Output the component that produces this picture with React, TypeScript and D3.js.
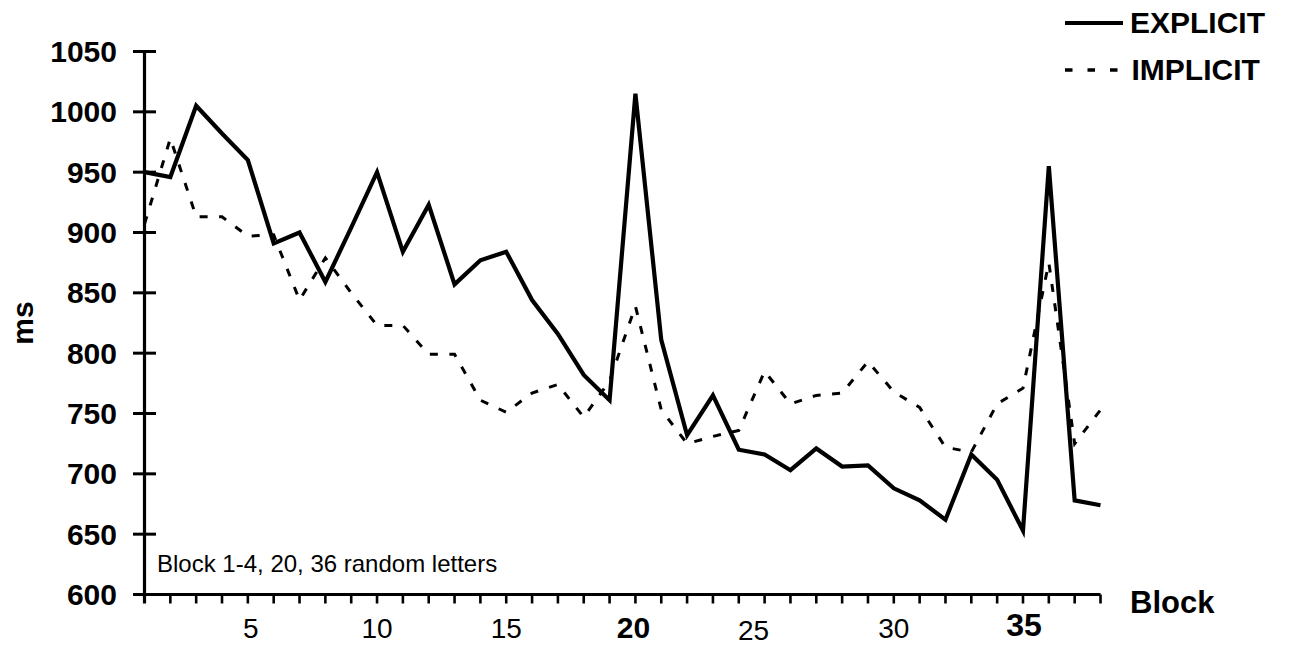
import React, { useEffect, useRef } from "react";
import * as d3 from "d3";

// block numbers 1..38
const blocks = d3.range(1, 39);

const explicit = [
  950, 946, 1005, 982, 960, 891, 900, 859, 904, 950,
  884, 923, 857, 877, 884, 844, 816, 782, 761, 1015,
  811, 732, 765, 720, 716, 703, 721, 706, 707, 688,
  678, 662, 716, 695, 653, 955, 678, 674,
];

const implicit = [
  907, 978, 913, 913, 897, 898, 844, 879, 850, 823,
  823, 799, 799, 761, 751, 767, 774, 747, 777, 839,
  753, 725, 731, 736, 785, 758, 765, 767, 793, 768,
  755, 722, 718, 758, 771, 875, 725, 753,
];

const yTicks = [600, 650, 700, 750, 800, 850, 900, 950, 1000, 1050];
const xLabels = [5, 10, 15, 20, 25, 30, 35];
const boldLabels = [20, 35];

const seriesNames = ["EXPLICIT", "IMPLICIT"];
const note = "Block 1-4, 20, 36 random letters";

const FONT = "'Liberation Sans', Arial, sans-serif";

// small hand tweaks for the x labels, as in the original figure
const labelStyle = {
  5: { dx: 3, dy: 0, size: 28 },
  10: { dx: 0, dy: 0, size: 28 },
  15: { dx: 0, dy: 0, size: 28 },
  20: { dx: -2, dy: 0, size: 30 },
  25: { dx: -11, dy: 1.5, size: 28 },
  30: { dx: 0, dy: 0, size: 28 },
  35: { dx: 1, dy: -2.5, size: 32 },
};

const Chart = ({ width, height }) => {
  const svgRef = useRef(null);

  useEffect(() => {
    const svg = d3.select(svgRef.current);
    svg.selectAll("*").remove();

    const x = d3.scalePoint().domain(blocks).range([144.5, 1100.5]);
    const y = d3.scaleLinear().domain([600, 1050]).range([594.5, 51.5]);

    const line = d3
      .line()
      .x((d, i) => x(blocks[i]))
      .y((d) => y(d));

    // y axis line + cross ticks
    svg
      .append("line")
      .attr("x1", x(1))
      .attr("x2", x(1))
      .attr("y1", y(1050))
      .attr("y2", y(600) + 9)
      .attr("stroke", "#000")
      .attr("stroke-width", 3.2);

    svg
      .append("g")
      .selectAll("line")
      .data(yTicks)
      .enter()
      .append("line")
      .attr("x1", x(1) - 11.5)
      .attr("x2", x(1) + 11.5)
      .attr("y1", (d) => y(d))
      .attr("y2", (d) => y(d))
      .attr("stroke", "#000")
      .attr("stroke-width", 3);

    svg
      .append("g")
      .selectAll("text")
      .data(yTicks)
      .enter()
      .append("text")
      .attr("x", 117)
      .attr("y", (d) => y(d) + 10.5)
      .attr("text-anchor", "end")
      .attr("font-family", FONT)
      .attr("font-weight", "bold")
      .attr("font-size", 30)
      .text((d) => d);

    // x axis line + ticks
    svg
      .append("line")
      .attr("x1", x(1))
      .attr("x2", x(38))
      .attr("y1", y(600))
      .attr("y2", y(600))
      .attr("stroke", "#000")
      .attr("stroke-width", 3.2);

    svg
      .append("g")
      .selectAll("line")
      .data(blocks.slice(1))
      .enter()
      .append("line")
      .attr("x1", (d) => x(d))
      .attr("x2", (d) => x(d))
      .attr("y1", y(600))
      .attr("y2", y(600) + 9)
      .attr("stroke", "#000")
      .attr("stroke-width", 2.6);

    svg
      .append("g")
      .selectAll("text")
      .data(xLabels)
      .enter()
      .append("text")
      .attr("x", (d) => x(d) + labelStyle[d].dx)
      .attr("y", (d) => 638 + labelStyle[d].dy)
      .attr("text-anchor", "middle")
      .attr("font-family", FONT)
      .attr("font-weight", (d) => (boldLabels.includes(d) ? "bold" : "normal"))
      .attr("font-size", (d) => labelStyle[d].size)
      .text((d) => d);

    // axis titles
    svg
      .append("text")
      .attr("x", 1130)
      .attr("y", 613)
      .attr("font-family", FONT)
      .attr("font-weight", "bold")
      .attr("font-size", 31)
      .text("Block");

    svg
      .append("text")
      .attr("transform", "translate(33,323) rotate(-90)")
      .attr("text-anchor", "middle")
      .attr("font-family", FONT)
      .attr("font-weight", "bold")
      .attr("font-size", 30)
      .text("ms");

    svg
      .append("text")
      .attr("x", 157)
      .attr("y", 572)
      .attr("font-family", FONT)
      .attr("font-size", 24)
      .text(note);

    // series
    svg
      .append("path")
      .datum(implicit)
      .attr("d", line)
      .attr("fill", "none")
      .attr("stroke", "#000")
      .attr("stroke-width", 3)
      .attr("stroke-dasharray", "8 11.5");

    svg
      .append("path")
      .datum(explicit)
      .attr("d", line)
      .attr("fill", "none")
      .attr("stroke", "#000")
      .attr("stroke-width", 4.2)
      .attr("stroke-linejoin", "miter");

    // legend
    const legend = svg.append("g");
    legend
      .append("line")
      .attr("x1", 1065)
      .attr("x2", 1123)
      .attr("y1", 23)
      .attr("y2", 23)
      .attr("stroke", "#000")
      .attr("stroke-width", 4);
    legend
      .append("line")
      .attr("x1", 1065)
      .attr("x2", 1118)
      .attr("y1", 70)
      .attr("y2", 70)
      .attr("stroke", "#000")
      .attr("stroke-width", 3.4)
      .attr("stroke-dasharray", "7.5 15");
    legend
      .selectAll("text")
      .data(seriesNames)
      .enter()
      .append("text")
      .attr("x", (d, i) => 1130 + i * 1.5)
      .attr("y", (d, i) => 33 + i * 47)
      .attr("font-family", FONT)
      .attr("font-weight", "bold")
      .attr("font-size", 30)
      .text((d) => d);
  }, [width, height]);

  return (
    <svg
      ref={svgRef}
      width={width}
      height={height}
      style={{ position: "absolute", left: 0, top: 0, background: "#fff" }}
    />
  );
};

export default function App() {
  return <Chart width={1290} height={645} />;
}
